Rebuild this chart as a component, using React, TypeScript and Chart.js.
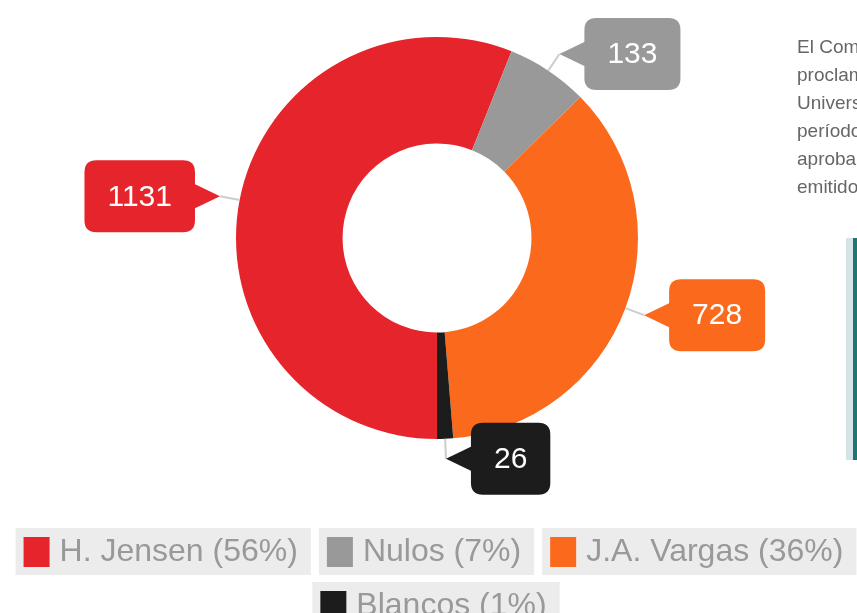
import React, { useEffect, useRef } from "react";
import { Chart, registerables } from "chart.js";

Chart.register(...registerables);

const categories = ["H. Jensen", "Nulos", "J.A. Vargas", "Blancos"];
const votes = [1131, 133, 728, 26];
const sliceColors = ["#e5252b", "#999999", "#fb6a1c", "#1c1c1c"];
const paragraphLines = [
  "El Comité Electoral",
  "proclamó como rector",
  "Universidad Nacional",
  "período 2021-2026 al",
  "aprobado con el 56%",
  "emitidos en la jornada.",
];

const FONT = '"Liberation Sans", Arial, sans-serif';

function roundRect(ctx: CanvasRenderingContext2D, x: number, y: number, w: number, h: number, r: number) {
  ctx.beginPath();
  ctx.moveTo(x + r, y);
  ctx.lineTo(x + w - r, y);
  ctx.quadraticCurveTo(x + w, y, x + w, y + r);
  ctx.lineTo(x + w, y + h - r);
  ctx.quadraticCurveTo(x + w, y + h, x + w - r, y + h);
  ctx.lineTo(x + r, y + h);
  ctx.quadraticCurveTo(x, y + h, x, y + h - r);
  ctx.lineTo(x, y + r);
  ctx.quadraticCurveTo(x, y, x + r, y);
  ctx.closePath();
}

const calloutPlugin = {
  id: "callouts",
  afterDraw(chart: any) {
    const ctx: CanvasRenderingContext2D = chart.ctx;
    const meta = chart.getDatasetMeta(0);
    const data = chart.data.datasets[0].data as number[];
    const colors = chart.data.datasets[0].backgroundColor as string[];
    ctx.save();
    ctx.font = `30px ${FONT}`;
    meta.data.forEach((arc: any, i: number) => {
      const p = arc.getProps(["x", "y", "startAngle", "endAngle", "outerRadius"], true);
      const mid = (p.startAngle + p.endAngle) / 2;
      const dx = Math.cos(mid);
      const dy = Math.sin(mid);
      const ex = p.x + p.outerRadius * dx;
      const ey = p.y + p.outerRadius * dy;
      const tx = p.x + (p.outerRadius + 20) * dx;
      const ty = p.y + (p.outerRadius + 20) * dy;
      const color = colors[i];
      ctx.strokeStyle = "rgba(200,200,200,0.9)";
      ctx.lineWidth = 2;
      ctx.beginPath();
      ctx.moveTo(ex, ey);
      ctx.lineTo(tx, ty);
      ctx.stroke();
      const text = String(data[i]);
      const tw = ctx.measureText(text).width;
      const bw = tw + 46;
      const bh = 72;
      const pl = 25;
      const right = dx >= 0;
      const bx = right ? tx + pl : tx - pl - bw;
      const by = ty - bh / 2;
      ctx.fillStyle = color;
      roundRect(ctx, bx, by, bw, bh, 12);
      ctx.fill();
      ctx.beginPath();
      ctx.moveTo(tx, ty);
      if (right) {
        ctx.lineTo(bx + 2, ty - 13);
        ctx.lineTo(bx + 2, ty + 13);
      } else {
        ctx.lineTo(bx + bw - 2, ty - 13);
        ctx.lineTo(bx + bw - 2, ty + 13);
      }
      ctx.closePath();
      ctx.fill();
      ctx.fillStyle = "#ffffff";
      ctx.textAlign = "center";
      ctx.textBaseline = "middle";
      ctx.fillText(text, bx + bw / 2, ty + 1);
    });
    ctx.restore();
  },
};

const legendPlugin = {
  id: "boxLegend",
  afterDraw(chart: any) {
    const ctx: CanvasRenderingContext2D = chart.ctx;
    const data = chart.data.datasets[0].data as number[];
    const colors = chart.data.datasets[0].backgroundColor as string[];
    const labels = chart.data.labels as string[];
    const total = data.reduce((a, b) => a + b, 0);
    ctx.save();
    ctx.font = `32px ${FONT}`;
    const items = labels.map((l, i) => {
      const text = `${l} (${Math.round((data[i] / total) * 100)}%)`;
      const w = 8 + 26 + 10 + ctx.measureText(text).width + 13;
      return { text, w, color: colors[i] };
    });
    const gap = 8;
    const maxW = 870;
    const rows: any[][] = [[]];
    let cur = 0;
    items.forEach((it) => {
      const add = (rows[rows.length - 1].length ? gap : 0) + it.w;
      if (cur + add > maxW && rows[rows.length - 1].length) {
        rows.push([it]);
        cur = it.w;
      } else {
        rows[rows.length - 1].push(it);
        cur += add;
      }
    });
    const cx = 436;
    const h = 47;
    rows.forEach((row, r) => {
      const rw = row.reduce((a: number, it: any) => a + it.w, 0) + gap * (row.length - 1);
      let x = cx - rw / 2;
      const y = 528 + r * (h + 7);
      row.forEach((it: any) => {
        ctx.fillStyle = "#ececec";
        ctx.fillRect(x, y, it.w, h);
        ctx.fillStyle = it.color;
        ctx.fillRect(x + 8, y + 9, 26, 30);
        ctx.fillStyle = "#999999";
        ctx.textAlign = "left";
        ctx.textBaseline = "middle";
        ctx.fillText(it.text, x + 44, y + h / 2 + 1);
        x += it.w + gap;
      });
    });
    ctx.restore();
  },
};

export default function App() {
  const ref = useRef<HTMLCanvasElement | null>(null);
  useEffect(() => {
    if (!ref.current) return;
    const chart = new Chart(ref.current, {
      type: "doughnut",
      data: {
        labels: categories,
        datasets: [
          {
            data: votes,
            backgroundColor: sliceColors,
            borderWidth: 0,
          },
        ],
      },
      options: {
        responsive: false,
        animation: false,
        rotation: 180,
        cutout: "47%",
        layout: { padding: { left: 236, right: 219, top: 37, bottom: 174 } },
        plugins: {
          legend: { display: false },
          tooltip: { enabled: false },
        },
      },
      plugins: [calloutPlugin, legendPlugin],
    });
    return () => chart.destroy();
  }, []);

  return (
    <div
      style={{
        position: "fixed",
        left: 0,
        top: 0,
        width: 857,
        height: 613,
        overflow: "hidden",
        background: "#ffffff",
      }}
    >
      <canvas ref={ref} width={857} height={613} style={{ position: "absolute", left: 0, top: 0 }} />
      <div
        style={{
          position: "absolute",
          left: 797,
          top: 33,
          width: 300,
          fontFamily: FONT,
          fontSize: 19,
          lineHeight: "28px",
          color: "#666666",
          whiteSpace: "nowrap",
        }}
      >
        {paragraphLines.map((l, i) => (
          <div key={i}>{l}</div>
        ))}
      </div>
      <div style={{ position: "absolute", left: 846, top: 238, width: 7, height: 222, background: "#d5e3e7" }} />
      <div style={{ position: "absolute", left: 853, top: 238, width: 6, height: 222, background: "#1b776f" }} />
    </div>
  );
}
